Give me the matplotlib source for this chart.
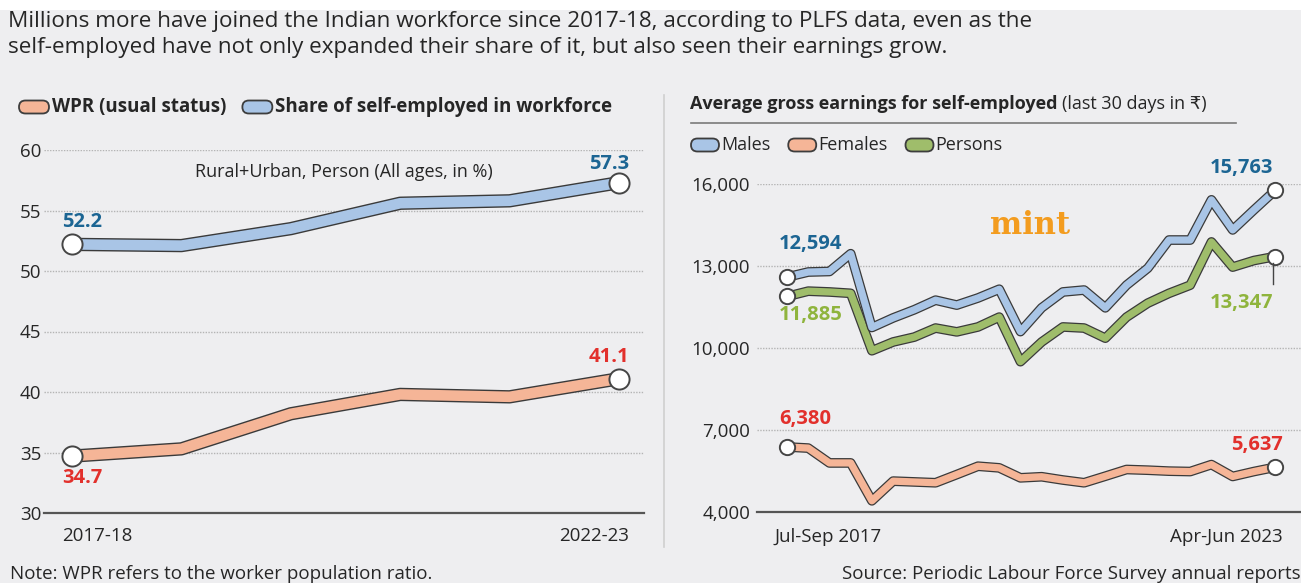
import matplotlib
matplotlib.use('Agg')
import matplotlib.pyplot as plt
from matplotlib.patches import FancyBboxPatch, Rectangle
from matplotlib.lines import Line2D
import matplotlib.patheffects as pe
from matplotlib.transforms import IdentityTransform

W, H = 1301, 583
plt.rcParams['font.family'] = ['Open Sans', 'DejaVu Sans']

# ---------------- data ----------------
years = ['2017-18', '2018-19', '2019-20', '2020-21', '2021-22', '2022-23']
wpr = [34.7, 35.3, 38.2, 39.8, 39.6, 41.1]
self_emp = [52.2, 52.1, 53.5, 55.6, 55.8, 57.3]

quarters = ['Jul-Sep 2017', 'Oct-Dec 2017', 'Jan-Mar 2018', 'Apr-Jun 2018',
            'Jul-Sep 2018', 'Oct-Dec 2018', 'Jan-Mar 2019', 'Apr-Jun 2019',
            'Jul-Sep 2019', 'Oct-Dec 2019', 'Jan-Mar 2020', 'Apr-Jun 2020',
            'Jul-Sep 2020', 'Oct-Dec 2020', 'Jan-Mar 2021', 'Apr-Jun 2021',
            'Jul-Sep 2021', 'Oct-Dec 2021', 'Jan-Mar 2022', 'Apr-Jun 2022',
            'Jul-Sep 2022', 'Oct-Dec 2022', 'Jan-Mar 2023', 'Apr-Jun 2023']
males = [12594, 12780, 12800, 13450, 10750, 11100, 11400, 11750, 11570, 11830,
         12150, 10600, 11470, 12050, 12120, 11470, 12300, 12920, 13950, 13950,
         15420, 14320, 15050, 15763]
persons = [11885, 12080, 12050, 12000, 9900, 10220, 10400, 10730, 10590, 10770,
           11130, 9500, 10220, 10770, 10730, 10360, 11130, 11640, 12000, 12300,
           13880, 12960, 13200, 13347]
females = [6380, 6338, 5795, 5795, 4410, 5130, 5100, 5070, 5370, 5675, 5615,
           5250, 5290, 5170, 5070, 5310, 5555, 5530, 5495, 5480, 5735, 5300,
           5480, 5637]

left_yticks = [30, 35, 40, 45, 50, 55, 60]
right_yticks = [4000, 7000, 10000, 13000, 16000]
right_ytick_labels = ['4,000', '7,000', '10,000', '13,000', '16,000']

# ---------------- style ----------------
BG = '#eeeef0'
TXT = '#262626'
GRID = '#b4b4b4'
OUT = '#3a3a3a'
C_BLUE = '#a9c5e6'
C_ORANGE = '#f5b597'
C_GREEN = '#9fbd6b'
L_BLUE = '#1c6593'
L_RED = '#e2302c'
L_GREEN = '#8fb43d'
FS_TICK = 13.5
FS_VAL = 14.5
FS_NOTE = 13.5

fig = plt.figure(figsize=(W / 100, H / 100), dpi=100)
fig.patch.set_facecolor('white')
fig.patches.append(Rectangle((0, 0), 1, 1 - 10 / H, transform=fig.transFigure,
                             facecolor=BG, edgecolor='none', zorder=-10))


def fx(px):
    return px / W


def fy(py):
    return 1 - py / H


axL = fig.add_axes([fx(44), fy(513), fx(644) - fx(44), fy(150) - fy(513)])
axR = fig.add_axes([fx(757), fy(512), fx(1301) - fx(757), fy(184) - fy(512)])

for ax in (axL, axR):
    ax.set_facecolor('none')
    for s in ('top', 'right', 'left'):
        ax.spines[s].set_visible(False)
    ax.spines['bottom'].set_color('#555555')
    ax.spines['bottom'].set_linewidth(1.6)
    ax.tick_params(axis='both', length=0, colors=TXT, labelsize=FS_TICK)
    ax.set_xticks([])

# left axis
axL.set_xlim(-0.256, 5.229)
axL.set_ylim(30, 60)
axL.set_yticks(left_yticks)
axL.set_yticklabels([str(v) for v in left_yticks])
axL.tick_params(axis='y', pad=2)
for v in left_yticks[1:]:
    axL.axhline(v, color=GRID, lw=1.0, ls=(0, (1, 1)), zorder=0)

# right axis
axR.set_xlim(-1.414, 24.22)
axR.set_ylim(4000, 16000)
axR.set_yticks(right_yticks)
axR.set_yticklabels(right_ytick_labels)
axR.tick_params(axis='y', pad=5)
for v in right_yticks[1:]:
    axR.axhline(v, color=GRID, lw=1.0, ls=(0, (1, 1)), zorder=0)

ms_for = {axL: 14.5, axR: 11}


def band(ax, y, color, lw, olw, z):
    x = list(range(len(y)))
    ax.plot(x, y, color=color, lw=lw, solid_joinstyle='round',
            solid_capstyle='butt', zorder=z, clip_on=False,
            path_effects=[pe.Stroke(linewidth=olw, foreground=OUT), pe.Normal()])
    ax.plot([x[0], x[-1]], [y[0], y[-1]], 'o', ms=ms_for[ax], mfc='white',
            mec='#454545', mew=1.4, zorder=z + 5, clip_on=False)


band(axL, wpr, C_ORANGE, 7.6, 9.6, 3)
band(axL, self_emp, C_BLUE, 7.6, 9.6, 3)
band(axR, females, C_ORANGE, 5.2, 7.0, 3)
band(axR, persons, C_GREEN, 5.2, 7.0, 3.2)
band(axR, males, C_BLUE, 5.2, 7.0, 3.4)

# x labels
nL = len(years) - 1
axL.annotate(years[0], (0, 30), xytext=(-10, -23), textcoords='offset pixels',
             ha='left', va='center', fontsize=FS_TICK, color=TXT, annotation_clip=False)
axL.annotate(years[-1], (nL, 30), xytext=(10, -23), textcoords='offset pixels',
             ha='right', va='center', fontsize=FS_TICK, color=TXT, annotation_clip=False)
nR = len(quarters) - 1
axR.annotate(quarters[0], (0, 4000), xytext=(-13, -25), textcoords='offset pixels',
             ha='left', va='center', fontsize=FS_TICK, color=TXT, annotation_clip=False)
axR.annotate(quarters[-1], (nR, 4000), xytext=(8, -25), textcoords='offset pixels',
             ha='right', va='center', fontsize=FS_TICK, color=TXT, annotation_clip=False)


def vlabel(ax, x, y, s, color, dx, dy, ha):
    ax.annotate(s, (x, y), xytext=(dx, dy), textcoords='offset pixels', ha=ha,
                va='center', fontsize=FS_VAL, fontweight='bold', color=color,
                annotation_clip=False, zorder=10)


def fmt_pct(v):
    return f'{v:.1f}'


def fmt_rs(v):
    return f'{v:,}'


vlabel(axL, 0, self_emp[0], fmt_pct(self_emp[0]), L_BLUE, -10, 22, 'left')
vlabel(axL, nL, self_emp[-1], fmt_pct(self_emp[-1]), L_BLUE, 10, 19, 'right')
vlabel(axL, nL, wpr[-1], fmt_pct(wpr[-1]), L_RED, 10, 22, 'right')
vlabel(axL, 0, wpr[0], fmt_pct(wpr[0]), L_RED, -10, -22, 'left')

vlabel(axR, 0, males[0], fmt_rs(males[0]), L_BLUE, -8, 33, 'left')
vlabel(axR, 0, persons[0], fmt_rs(persons[0]), L_GREEN, -8, -19, 'left')
vlabel(axR, nR, males[-1], fmt_rs(males[-1]), L_BLUE, -2, 22, 'right')
vlabel(axR, nR, persons[-1], fmt_rs(persons[-1]), L_GREEN, -2, -46, 'right')
vlabel(axR, 0, females[0], fmt_rs(females[0]), L_RED, -8, 28, 'left')
vlabel(axR, nR, females[-1], fmt_rs(females[-1]), L_RED, 8, 22, 'right')
fig.add_artist(Line2D([fx(1273), fx(1273)], [fy(263), fy(284)], color='#444444',
                      lw=1.0, transform=fig.transFigure))

# subtitle in left panel
fig.text(fx(344), fy(172), 'Rural+Urban, Person (All ages, in %)', ha='center',
         va='center', fontsize=13, color=TXT)

# mint logo
fig.text(fx(1030), fy(225), 'mint', ha='center', va='center', fontsize=22,
         fontfamily='DejaVu Serif', fontweight='bold', color='#f39c1f')

# title
fig.text(fx(8), fy(21), 'Millions more have joined the Indian workforce since 2017-18, '
         'according to PLFS data, even as the', ha='left', va='center',
         fontsize=16.2, color=TXT)
fig.text(fx(8), fy(47), 'self-employed have not only expanded their share of it, '
         'but also seen their earnings grow.', ha='left', va='center',
         fontsize=16.2, color=TXT)

# notes
fig.text(fx(10), fy(574), 'Note: WPR refers to the worker population ratio.',
         ha='left', va='center', fontsize=FS_NOTE, color=TXT)
fig.text(fx(1301), fy(574), 'Source: Periodic Labour Force Survey annual reports',
         ha='right', va='center', fontsize=FS_NOTE, color=TXT)

# separators
fig.add_artist(Line2D([fx(664), fx(664)], [fy(95), fy(547)], color='#cfcfcf',
                      lw=1.2, transform=fig.transFigure))
fig.add_artist(Line2D([fx(691), fx(1236)], [fy(123), fy(123)], color='#7a7a7a',
                      lw=1.2, transform=fig.transFigure))


def pill(xl, yc, w, h, color):
    p = FancyBboxPatch((xl, H - yc - h / 2), w, h,
                       boxstyle=f'round,pad=0,rounding_size={h / 2}',
                       facecolor=color, edgecolor='#3d3d3d', lw=1.3,
                       transform=IdentityTransform())
    fig.add_artist(p)


renderer = fig.canvas.get_renderer()


def legend_row(items, x0, yc, pw, gap_text, gap_item, fs, weight):
    x = x0
    for label, color in items:
        pill(x, yc, pw, 13, color)
        t = fig.text(fx(x + pw + gap_text), fy(yc), label, ha='left', va='center',
                     fontsize=fs, fontweight=weight, color=TXT)
        bb = t.get_window_extent(renderer)
        x = bb.x1 + gap_item


legend_row([('WPR (usual status)', C_ORANGE),
            ('Share of self-employed in workforce', C_BLUE)],
           19, 107, 30, 3, 16, 13.5, 'bold')
legend_row([('Males', C_BLUE), ('Females', C_ORANGE), ('Persons', C_GREEN)],
           691, 145, 28, 2, 18, 13, 'normal')

# right panel title: bold + regular
t1 = fig.text(fx(690), fy(104), 'Average gross earnings for self-employed',
              ha='left', va='center', fontsize=13, fontweight='bold', color=TXT)
bb = t1.get_window_extent(renderer)
fig.text((bb.x1 + 4) / W, fy(104), '(last 30 days in ₹)', ha='left', va='center',
         fontsize=13, color=TXT)

fig.savefig('out.png', dpi=100, facecolor=fig.get_facecolor())
